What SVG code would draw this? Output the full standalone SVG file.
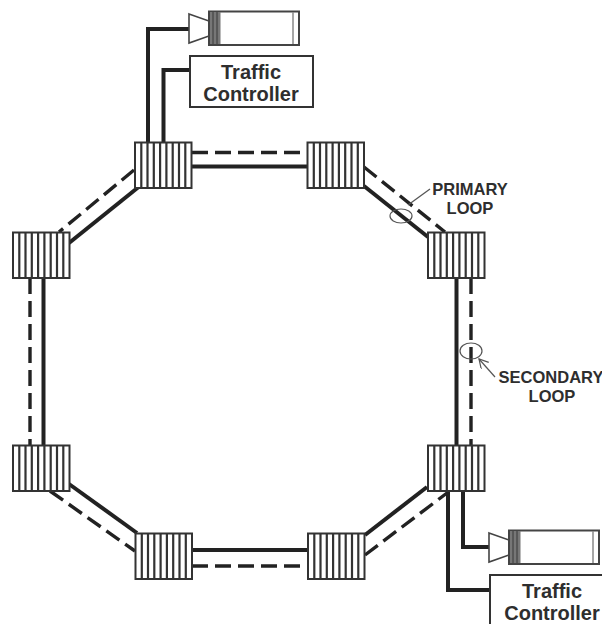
<svg xmlns="http://www.w3.org/2000/svg" width="602" height="624" viewBox="0 0 602 624">
<style>
.solid{fill:none;stroke:#222;stroke-width:4}
.dash{fill:none;stroke:#222;stroke-width:3.400;stroke-dasharray:16 7}
.thin{fill:none;stroke:#555;stroke-width:1.200}
.box{fill:#fff;stroke:#333;stroke-width:2}
.t{font-family:"Liberation Sans",Arial,sans-serif;font-weight:700;fill:#2e2e2e;text-anchor:middle}
.big{font-size:20px}
.small{font-size:16.500px}
</style>
<defs>
<g id="mux">
<rect x="0.500" y="0.500" width="56.500" height="45.500" fill="#fff" stroke="#333" stroke-width="2"/>
<path d="M6.800 0V46M13 0V46M19.300 0V46M25.600 0V46M31.900 0V46M38.200 0V46M44.500 0V46M50.800 0V46" stroke="#333" stroke-width="2.200" fill="none"/>
</g>
<g id="unit">
<polygon points="0,3 20,10 20,25 0,32" fill="#fff" stroke="#444" stroke-width="1.600"/>
<rect x="20" y="0.500" width="90" height="33.500" fill="#fff" stroke="#444" stroke-width="2"/>
<rect x="21" y="1" width="10.500" height="32" fill="#777"/>
<path d="M24 1V33M28 1V33" stroke="#444" stroke-width="1.200"/>
<path d="M104 1V33" stroke="#888" stroke-width="1.500"/>
</g>
<marker id="open" markerWidth="12" markerHeight="12" refX="10" refY="5" orient="auto" markerUnits="userSpaceOnUse">
<path d="M1 0L10 5L1 10" fill="none" stroke="#555" stroke-width="1.200"/>
</marker>
</defs>
<g id="connectors">
<path class="dash" d="M192 152.500H307"/>
<path class="solid" d="M192 166.500H307"/>
<path class="dash" d="M192 566H307"/>
<path class="solid" d="M192 550H307"/>
<path class="dash" d="M30 278V445"/>
<path class="solid" d="M43.500 278V445"/>
<path class="dash" d="M471 278V445"/>
<path class="solid" d="M456.500 278V445"/>
<path class="dash" d="M134 170L59 232"/>
<path class="solid" d="M138 187.500L69 243"/>
<path class="dash" d="M364 167L445 232"/>
<path class="solid" d="M364 186L428 237"/>
<path class="solid" d="M69 484L137 533"/>
<path class="dash" d="M50 491L135 551"/>
<path class="solid" d="M365 535L427 487"/>
<path class="dash" d="M365 555L447 493"/>
<path class="solid" d="M148 142V29H189"/>
<path class="solid" d="M163.500 142V70H190"/>
<path class="solid" d="M463 491V547H489"/>
<path class="solid" d="M448 491V590H490"/>
<path class="thin" d="M430 189L408 205"/>
<path class="thin" d="M495 377L479 359" marker-end="url(#open)"/>
</g>
<g id="node-top-left"><use href="#mux" x="134.500" y="142"/></g>
<g id="node-top-right"><use href="#mux" x="307" y="142"/></g>
<g id="node-right-upper"><use href="#mux" x="427.500" y="232"/></g>
<g id="node-right-lower"><use href="#mux" x="427.500" y="445"/></g>
<g id="node-left-upper"><use href="#mux" x="12.500" y="232"/></g>
<g id="node-left-lower"><use href="#mux" x="12.500" y="445"/></g>
<g id="node-bottom-left"><use href="#mux" x="135" y="533"/></g>
<g id="node-bottom-right"><use href="#mux" x="307.500" y="533"/></g>
<g id="camera-top"><use href="#unit" x="189" y="11"/></g>
<g id="camera-bottom"><use href="#unit" x="489" y="530"/></g>
<g id="controller-top">
<rect class="box" x="190" y="56" width="123" height="51"/>
<text class="t big" x="251" y="79">Traffic</text>
<text class="t big" x="251" y="101">Controller</text>
</g>
<g id="controller-bottom">
<rect class="box" x="490" y="575" width="125" height="60"/>
<text class="t big" x="552" y="598">Traffic</text>
<text class="t big" x="552" y="620">Controller</text>
</g>
<g id="primary-loop">
<ellipse class="thin" cx="401" cy="216" rx="11" ry="7"/>
<text class="t small" x="470" y="195">PRIMARY</text>
<text class="t small" x="470" y="214">LOOP</text>
</g>
<g id="secondary-loop">
<ellipse class="thin" cx="471" cy="351" rx="11" ry="8"/>
<text class="t small" x="551" y="383">SECONDARY</text>
<text class="t small" x="552" y="402">LOOP</text>
</g>
</svg>
